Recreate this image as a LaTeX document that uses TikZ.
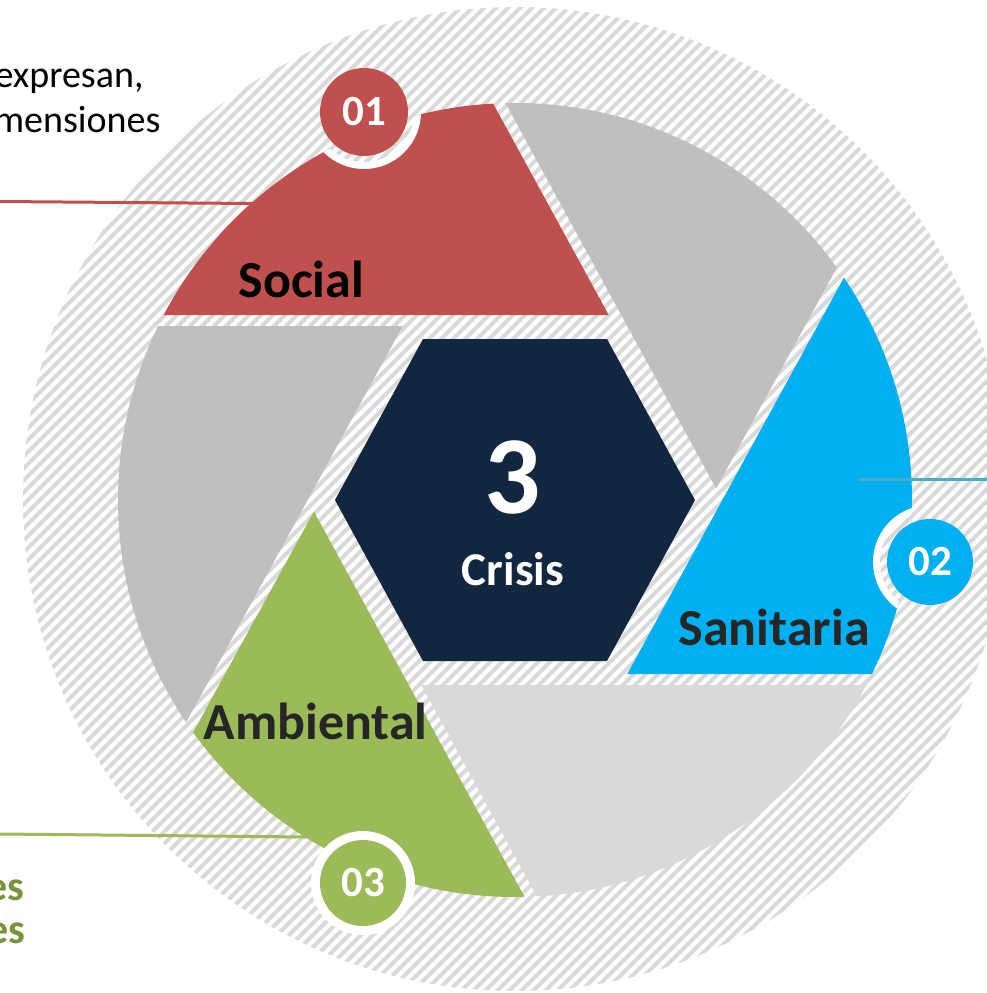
\documentclass[tikz,border=0pt]{standalone}
\usepackage{fontspec}
\setmainfont{Carlito}
\usetikzlibrary{calc}
\definecolor{cred}{HTML}{C0504D}
\definecolor{cblue}{HTML}{00B0F0}
\definecolor{cgreen}{HTML}{9BBB59}
\definecolor{cgrayA}{HTML}{BFBFBF}
\definecolor{cgrayB}{HTML}{D9D9D9}
\definecolor{cnavy}{HTML}{12263F}
\definecolor{chatch}{HTML}{D9D9D9}
\definecolor{cteal}{HTML}{4BACC6}
\definecolor{cgtext}{HTML}{77933C}
\definecolor{clabel}{HTML}{262626}
\newcommand{\hatchfill}{\foreach \k in {312,324,...,1716} {\draw[chatch, line width=4.2pt] (\k+20,-20) -- (-20,\k+20);}}
\newcommand{\bladeclip}{\clip (515,500) circle (397pt);}
\begin{document}
\begin{tikzpicture}[x=1pt,y=-1pt,
  badge/.style={circle, inner sep=0pt, minimum size=#1, text=white, font=\fontsize{43}{43}\selectfont\bfseries},
  bladelabel/.style={anchor=base west, font=\fontsize{52}{52}\selectfont\bfseries},
  sidetext/.style={anchor=base east, font=\fontsize{38}{45}\selectfont},
  greentext/.style={anchor=base east, text=cgtext, font=\fontsize{42}{43}\selectfont\bfseries},
  connector/.style={line width=3pt}]
\useasboundingbox (0,0) rectangle (987,993);
\fill[white] (0,0) rectangle (987,993);
% hatched disc
\begin{scope}
  \clip (515,499) circle (492pt);
  \hatchfill
\end{scope}
% blade vertices
\coordinate (P1) at (608.7,315);
\coordinate (P2) at (402.75,326);
\coordinate (P3) at (313.9,511.5);
\coordinate (P4) at (421.3,685);
\coordinate (P5) at (627.25,674);
\coordinate (P0) at (716.1,488.5);
% blades
\begin{scope}
  \bladeclip
  \fill[cred]   (P1) -- ($(P1)+1200*(-1,0)$) -- ($(P1)+1200*(-0.4796,-0.8774)$) -- cycle;
  \fill[cgrayA] (P2) -- ($(P2)+1200*(-0.4796,0.8774)$) -- ($(P2)+1200*(-1,0)$) -- cycle;
  \fill[cgreen] (P3) -- ($(P3)+1200*(0.4796,0.8774)$) -- ($(P3)+1200*(-0.4796,0.8774)$) -- cycle;
  \fill[cgrayB] (P4) -- ($(P4)+1200*(1,0)$) -- ($(P4)+1200*(0.4796,0.8774)$) -- cycle;
  \fill[cblue]  (P5) -- ($(P5)+1200*(0.4796,-0.8774)$) -- ($(P5)+1200*(1,0)$) -- cycle;
  \fill[cgrayA] (P0) -- ($(P0)+1200*(-0.4796,-0.8774)$) -- ($(P0)+1200*(0.4796,-0.8774)$) -- cycle;
\end{scope}
% notch in red blade
\begin{scope}
  \bladeclip
  \clip (P1) -- ($(P1)+1200*(-1,0)$) -- ($(P1)+1200*(-0.4796,-0.8774)$) -- cycle;
  \fill[white] (364,112) circle (57pt);
  \clip (364,112) circle (50pt);
  \hatchfill
\end{scope}
% notch in blue blade
\begin{scope}
  \bladeclip
  \clip (P5) -- ($(P5)+1200*(0.4796,-0.8774)$) -- ($(P5)+1200*(1,0)$) -- cycle;
  \fill[white] (930,562) circle (57pt);
  \clip (930,562) circle (50pt);
  \hatchfill
\end{scope}
% ring of badge 03
\fill[white] (363,883) circle (52pt);
% hexagon
\fill[cnavy] (695,500) -- (607,339) -- (423,339) -- (335,500) -- (423,661) -- (607,661) -- cycle;
\node[anchor=base, text=white, font=\fontsize{111}{111}\selectfont\bfseries] (num) at (513,513) {3};
\node[anchor=base, text=white, font=\fontsize{47}{47}\selectfont\bfseries] (crisis) at (513,585) {Crisis};
% connectors
\coordinate (rA) at (0,201.5);
\coordinate (rB) at (252,203.5);
\coordinate (bA) at (859,479);
\coordinate (bB) at (990,479);
\coordinate (gA) at (0,834);
\coordinate (gB) at (306,837);
\draw[connector, cred] (rA) -- (rB);
\draw[connector, cteal] (bA) -- (bB);
\draw[connector, cgreen] (gA) -- (gB);
% badges
\node[badge=88pt, fill=cred] (b1) at (364,112) {01};
\node[badge=86pt, fill=cblue] (b2) at (930,562) {02};
\node[badge=86pt, fill=cgreen] (b3) at (363,883) {03};
% blade labels
\node[bladelabel, text=black] (social) at (235,297) {Social};
\node[bladelabel, text=clabel] (sanit) at (675,645) {Sanitaria};
\node[bladelabel, text=clabel] (ambi) at (200,739) {Ambiental};
% side texts
\node[sidetext] (t1) at (147,87) {expresan,};
\node[sidetext] (t2) at (164,132) {mensiones};
\node[greentext] (g1) at (28,900) {es};
\node[greentext] (g2) at (29,943) {es};
\end{tikzpicture}
\end{document}
